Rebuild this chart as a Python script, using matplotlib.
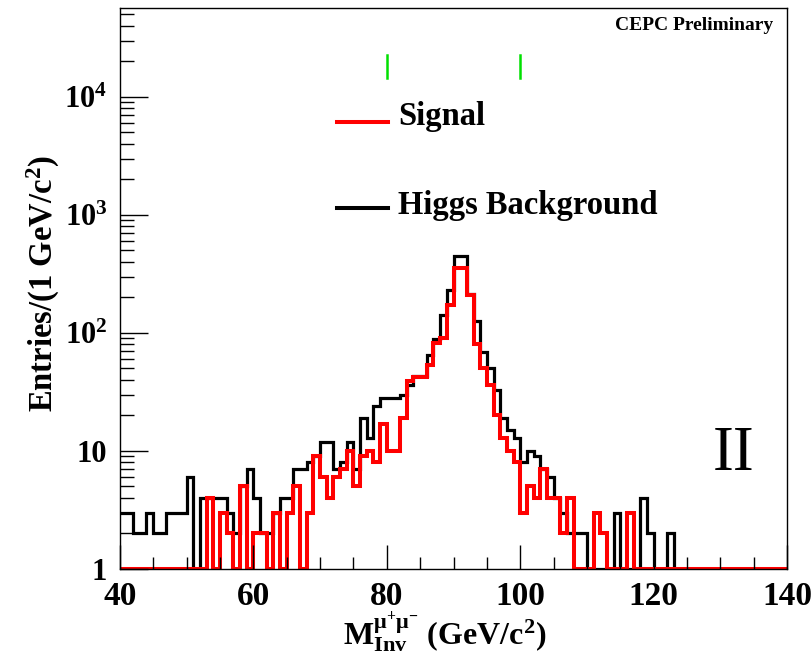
import numpy as np
import matplotlib
matplotlib.use("Agg")
import matplotlib.pyplot as plt
from matplotlib.ticker import FixedLocator, FixedFormatter, NullFormatter

# 1 GeV bins from 40 to 140 GeV
edges = np.arange(40, 141, 1)

# Higgs background (black), entries per bin, 40..139 GeV
background = [
    3, 3, 2, 2, 3, 2, 2, 3, 3, 3,            # 40-49
    6, 0, 4, 4, 4, 4, 3, 2, 5, 7,            # 50-59
    4, 2, 2, 3, 4, 4, 7, 7, 8, 9,            # 60-69
    12, 12, 7, 8, 12, 7, 19, 13, 24, 28,     # 70-79
    28, 28, 30, 36, 43, 43, 65, 89, 142, 231,  # 80-89
    450, 450, 215, 125, 69, 50, 33, 19, 15, 13,  # 90-99
    8, 10, 9, 7, 6, 4, 3, 2, 2, 2,           # 100-109
    0, 0, 0, 0, 3, 0, 0, 0, 4, 2,            # 110-119
    0, 0, 2, 0, 0, 0, 0, 0, 0, 0,            # 120-129
    0, 0, 0, 0, 0, 0, 0, 0, 0, 0,            # 130-139
]

# Signal (red), entries per bin, 40..139 GeV
signal = [
    0, 0, 0, 0, 0, 0, 0, 0, 0, 0,            # 40-49
    0, 0, 0, 4, 0, 3, 2, 0, 5, 0,            # 50-59
    2, 2, 0, 3, 0, 3, 5, 0, 3, 9,            # 60-69
    6, 4, 6, 7, 10, 5, 9, 10, 8, 17,         # 70-79
    10, 10, 19, 39, 42, 42, 54, 82, 90, 173,   # 80-89
    353, 353, 210, 80, 50, 36, 20, 13, 10, 8,  # 90-99
    3, 5, 4, 7, 4, 4, 2, 4, 0, 0,            # 100-109
    0, 3, 2, 0, 0, 0, 3, 0, 0, 0,            # 110-119
    0, 0, 0, 0, 0, 0, 0, 0, 0, 0,            # 120-129
    0, 0, 0, 0, 0, 0, 0, 0, 0, 0,            # 130-139
]

y_ticks = [1, 10, 100, 1000, 10000]
y_labels = ["1", "10", "$10^{2}$", "$10^{3}$", "$10^{4}$"]
x_ticks = [40, 60, 80, 100, 120, 140]
markers = [80, 100]

plt.rcParams["font.family"] = ["Liberation Serif", "DejaVu Serif"]
plt.rcParams["font.weight"] = "bold"
plt.rcParams["mathtext.fontset"] = "custom"
plt.rcParams["mathtext.rm"] = "Liberation Serif:bold"
plt.rcParams["mathtext.it"] = "Liberation Serif:italic:bold"
plt.rcParams["mathtext.bf"] = "Liberation Serif:bold"

fig = plt.figure(figsize=(8.12, 6.57), dpi=100)
ax = fig.add_axes([0.1475, 0.134, 0.822, 0.854])

# ROOT draws empty bins on the floor of the log axis
ax.stairs(np.maximum(background, 1), edges, color="black", lw=2.3, baseline=None)
ax.stairs(np.maximum(signal, 1), edges, color="#ff0000", lw=2.9, baseline=None)

for m in markers:
    ax.plot([m, m], [14500, 22500], color="#00e000", lw=1.8)

ax.set_yscale("log")
ax.set_xlim(40, 140)
ax.set_ylim(1, 56800)

ax.yaxis.set_major_locator(FixedLocator(y_ticks))
ax.yaxis.set_major_formatter(FixedFormatter(y_labels))
ax.yaxis.set_minor_locator(FixedLocator([m * 10 ** d for d in range(5) for m in range(2, 10)]))
ax.yaxis.set_minor_formatter(NullFormatter())
ax.xaxis.set_major_locator(FixedLocator(x_ticks))
ax.xaxis.set_minor_locator(FixedLocator(np.arange(40, 141, 5)))
ax.tick_params(axis="both", which="both", direction="in", top=False, right=False)
ax.tick_params(axis="y", which="major", length=20, width=1, labelsize=22, pad=9)
ax.tick_params(axis="y", which="minor", length=10, width=1)
ax.tick_params(axis="x", which="major", length=17, width=1, labelsize=24, pad=8.5)
ax.tick_params(axis="x", which="minor", length=9, width=1)
for s in ax.spines.values():
    s.set_linewidth(1)

fig.text(0.053, 0.569, "Entries/(1 GeV/c$^{2}$)", rotation=90, ha="center", va="center",
         fontsize=23.5, fontweight="bold")
fig.text(0.548, 0.018, r"M$_{\mathrm{Inv}}^{\mathrm{\mu^{+}\mu^{-}}}$ (GeV/c$^{2}$)", ha="center",
         va="baseline", fontsize=23, fontweight="bold")

ax.text(0.979, 0.968, "CEPC Preliminary", transform=ax.transAxes, ha="right", va="center",
        fontsize=14, fontweight="bold")
ax.text(0.92, 0.203, "II", transform=ax.transAxes, ha="center", va="center",
        fontsize=45, fontweight="normal")

# legend drawn by hand, as in the original layout
ax.plot([0.3255, 0.4021], [0.797, 0.797], transform=ax.transAxes, color="#ff0000", lw=2.9)
ax.text(0.417, 0.806, "Signal", transform=ax.transAxes, ha="left", va="center", fontsize=23.5)
ax.plot([0.3255, 0.4021], [0.6435, 0.6435], transform=ax.transAxes, color="black", lw=2.9)
ax.text(0.417, 0.647, "Higgs Background", transform=ax.transAxes, ha="left", va="center",
        fontsize=23.5)

fig.savefig("out.png", dpi=100)
